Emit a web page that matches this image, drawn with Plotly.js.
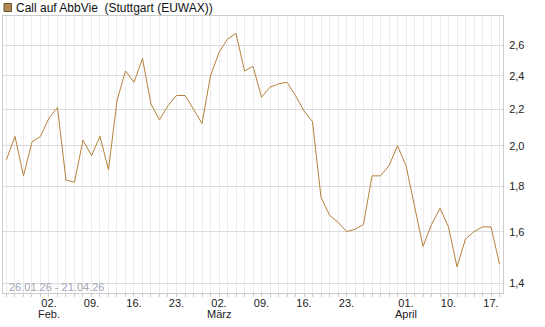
<!DOCTYPE html>
<html><head><meta charset="utf-8">
<script src="https://cdn.plot.ly/plotly-3.0.1.min.js"></script>
<style>html,body{margin:0;padding:0;background:#fff}#chart{width:545px;height:327px}</style>
</head><body><div id="chart"></div><script>
// Trading days (Stuttgart), 26.01.26 - 20.04.26
const dates = [
 '26.01.','27.01.','28.01.','29.01.','30.01.',
 '02.02.','03.02.','04.02.','05.02.','06.02.',
 '09.02.','10.02.','11.02.','12.02.','13.02.',
 '16.02.','17.02.','18.02.','19.02.','20.02.',
 '23.02.','24.02.','25.02.','26.02.','27.02.',
 '02.03.','03.03.','04.03.','05.03.','06.03.',
 '09.03.','10.03.','11.03.','12.03.','13.03.',
 '16.03.','17.03.','18.03.','19.03.','20.03.',
 '23.03.','24.03.','25.03.','26.03.','27.03.',
 '30.03.','31.03.','01.04.','02.04.','07.04.',
 '08.04.','09.04.','10.04.','13.04.','14.04.',
 '15.04.','16.04.','17.04.','20.04.'
];
const prices = [
 1.93, 2.05, 1.85, 2.02, 2.05,
 2.15, 2.21, 1.83, 1.82, 2.03,
 1.95, 2.05, 1.88, 2.25, 2.43,
 2.36, 2.51, 2.23, 2.14, 2.22,
 2.28, 2.28, 2.20, 2.12, 2.40,
 2.55, 2.64, 2.68, 2.43, 2.46,
 2.27, 2.33, 2.35, 2.36, 2.28,
 2.19, 2.13, 1.75, 1.67, 1.64,
 1.60, 1.61, 1.63, 1.85, 1.85,
 1.90, 2.00, 1.90, 1.71, 1.54,
 1.63, 1.70, 1.62, 1.46, 1.57,
 1.60, 1.62, 1.62, 1.47
];
const tickDates = ['02.02.','09.02.','16.02.','23.02.','02.03.','09.03.','16.03.','23.03.','01.04.','10.04.','17.04.'];
const tickLabels = ['02.','09.','16.','23.','02.','09.','16.','23.','01.','10.','17.'];
const monthDates = ['02.02.','02.03.','01.04.'];
const monthLabels = ['Feb.','März','April'];
const yTicks = [1.4, 1.6, 1.8, 2.0, 2.2, 2.4, 2.6];
const seriesName = 'Call auf AbbVie  (Stuttgart (EUWAX))';
const rangeLabel = '26.01.26 - 21.04.26';

const xIdx = dates.map((d, i) => i);
const tickIdx = tickDates.map(d => dates.indexOf(d));

const trace = {
  x: xIdx, y: prices, type: 'scatter', mode: 'lines',
  line: {color: '#b5813a', width: 1},
  hoverinfo: 'skip', showlegend: false
};

const monthAnn = monthDates.map((d, i) => ({
  text: monthLabels[i], xref: 'x', yref: 'paper', x: dates.indexOf(d), y: 0,
  xanchor: 'center', yanchor: 'middle', yshift: -21, showarrow: false,
  font: {size: 11, color: '#222'}
}));

const layout = {
  width: 545, height: 327,
  margin: {l: 3, r: 42, t: 16, b: 34, pad: 0},
  paper_bgcolor: '#ffffff', plot_bgcolor: '#ffffff',
  separators: ',.',
  font: {family: 'Liberation Sans, Arial, sans-serif', size: 11, color: '#222'},
  xaxis: {
    range: [-0.41, 58.41], tickmode: 'array', tickvals: tickIdx, ticktext: tickLabels,
    showgrid: true, gridcolor: '#ececec', gridwidth: 1,
    minor: {dtick: 1, tick0: 0, showgrid: true, gridcolor: '#ececec', ticks: 'outside', ticklen: 3, tickcolor: '#cccccc'},
    ticks: 'outside', ticklen: 3, tickcolor: '#cccccc', ticklabelstandoff: -3,
    showline: true, linecolor: '#cccccc', linewidth: 1, mirror: true, zeroline: false,
    tickfont: {size: 11, color: '#222'}, fixedrange: true
  },
  yaxis: {
    type: 'log', range: [0.134842, 0.44773], side: 'right',
    tickmode: 'array', tickvals: yTicks, tickformat: '.1f',
    showgrid: true, gridcolor: '#dcdcdc', gridwidth: 1,
    showline: true, linecolor: '#cccccc', linewidth: 1, mirror: true, zeroline: false,
    ticks: 'outside', ticklen: 3, tickcolor: 'rgba(0,0,0,0)',
    tickfont: {size: 11, color: '#222'}, fixedrange: true
  },
  shapes: [{
    type: 'rect', xref: 'paper', yref: 'paper', xsizemode: 'pixel', ysizemode: 'pixel',
    xanchor: 0, yanchor: 1, x0: 1, x1: 8.5, y0: 4.5, y1: 12.5,
    fillcolor: '#b08a52', line: {color: '#6b5230', width: 1}
  }],
  annotations: [
    {text: seriesName, xref: 'paper', yref: 'paper', x: 0, y: 1, xanchor: 'left', yanchor: 'middle',
     xshift: 11, yshift: 8, showarrow: false, font: {size: 12, color: '#111'}},
    {text: rangeLabel, xref: 'paper', yref: 'paper', x: 0, y: 0, xanchor: 'left', yanchor: 'middle',
     xshift: 4, yshift: 6, showarrow: false, font: {size: 11, color: '#a0a6b4'}}
  ].concat(monthAnn)
};

Plotly.newPlot('chart', [trace], layout, {displayModeBar: false, staticPlot: true});
</script></body></html>
